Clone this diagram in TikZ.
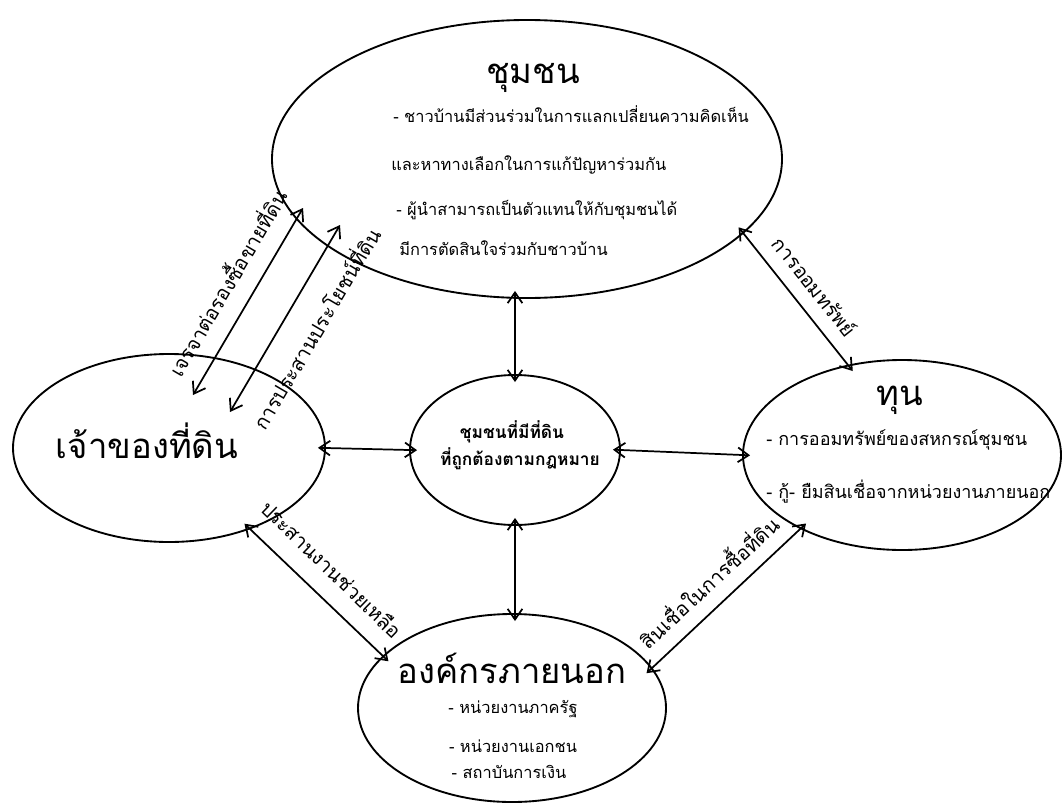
\documentclass[tikz,border=0pt]{standalone}
\usepackage{fontspec}
\newfontfamily\thaifont[Script=Thai]{Loma}
\usetikzlibrary{shapes.geometric,arrows.meta}

\begin{document}
\begin{tikzpicture}[x=0.75pt,y=0.75pt,yscale=-1,xscale=1,
  blob/.style={draw, ellipse, line width=1.4pt, inner sep=0pt},
  link/.style={{Straight Barb[length=8pt,width=11pt]}-{Straight Barb[length=8pt,width=11pt]}, line width=1.3pt, shorten <=-6pt, shorten >=-6pt},
  head/.style={font=\thaifont\fontsize{26}{30}\selectfont, inner sep=0.75pt, anchor=base},
  item/.style={font=\thaifont\fontsize{12.3}{14}\selectfont, inner sep=0.75pt, anchor=base west},
  tag/.style={font=\thaifont\fontsize{15}{18}\selectfont, inner sep=0.75pt}]
\useasboundingbox (0,0) rectangle (1063,803);

%Shape: Ellipse [ชุมชน]
\node [blob, minimum width=382.5pt, minimum height=208.5pt] (comm) at (527,159) {};
%Shape: Ellipse [เจ้าของที่ดิน]
\node [blob, minimum width=234pt, minimum height=141pt] (owner) at (169,448) {};
%Shape: Ellipse [ชุมชนที่มีที่ดิน]
\node [blob, minimum width=157.5pt, minimum height=112.5pt] (legal) at (515,450) {};
%Shape: Ellipse [ทุน]
\node [blob, minimum width=238.5pt, minimum height=142.5pt] (fund) at (902,455) {};
%Shape: Ellipse [องค์กรภายนอก]
\node [blob, minimum width=231pt, minimum height=141pt] (ext) at (512,708) {};

% Text Node
\node [head] (commT) at (533,83) {ชุมชน};
\node [item] (commA) at (392,122) {- ชาวบ้านมีส่วนร่วมในการแลกเปลี่ยนความคิดเห็น};
\node [item] (commB) at (390,170) {และหาทางเลือกในการแก้ปัญหาร่วมกัน};
\node [item] (commC) at (395,215) {- ผู้นำสามารถเป็นตัวแทนให้กับชุมชนได้};
\node [item] (commD) at (398,255) {มีการตัดสินใจร่วมกับชาวบ้าน};
% Text Node
\node [head] (ownerT) at (147,458) {เจ้าของที่ดิน};
% Text Node
\node [font=\thaifont\bfseries\fontsize{13}{15}\selectfont, inner sep=0.75pt, anchor=base] (legalA) at (512,438) {ชุมชนที่มีที่ดิน};
\node [font=\thaifont\bfseries\fontsize{13}{15}\selectfont, inner sep=0.75pt, anchor=base] (legalB) at (520,465) {ที่ถูกต้องตามกฎหมาย};
% Text Node
\node [head] (fundT) at (900,405) {ทุน};
\node [item, font=\thaifont\fontsize{13.5}{16}\selectfont] (fundA) at (765,445) {- การออมทรัพย์ของสหกรณ์ชุมชน};
\node [item, font=\thaifont\fontsize{13.5}{16}\selectfont] (fundB) at (765,498) {- กู้- ยืมสินเชื่อจากหน่วยงานภายนอก};
% Text Node
\node [head] (extT) at (512,683) {องค์กรภายนอก};
\node [item, anchor=base] (extA) at (513,713) {- หน่วยงานภาครัฐ};
\node [item, anchor=base] (extB) at (513,752) {- หน่วยงานเอกชน};
\node [item, anchor=base] (extC) at (509,778) {- สถาบันการเงิน};

%Straight Lines [owner - comm]
\coordinate (buyA) at (193,395);
\coordinate (buyB) at (303,208);
\coordinate (useA) at (230,412);
\coordinate (useB) at (340,225);
\draw [link, shorten <=0pt, shorten >=0pt] (buyA) -- (buyB);
\draw [link, shorten <=0pt, shorten >=0pt] (useA) -- (useB);
%Straight Lines [comm - fund]
\draw [link] (comm.-19) -- (fund.121);
%Straight Lines [owner - ext]
\draw [link] (owner.-45) -- (ext.158);
%Straight Lines [ext - fund]
\draw [link] (ext.16) -- (fund.-144);
%Straight Lines [legal]
\draw [link] (legal.north) -- (legal.north |- comm.south);
\draw [link] (legal.south) -- (legal.south |- ext.north);
\draw [link] (owner.east) -- (legal.west);
\draw [link] (legal.east) -- (fund.west);

% Text Node [arrow labels]
\node [tag, rotate=59.5] (buyL) at (226,282) {เจรจาต่อรองซื้อขายที่ดิน};
\node [tag, rotate=59.5] (useL) at (315,328) {การประสานประโยชน์ที่ดิน};
\node [tag, rotate=-51.6] (saveL) at (815,286) {การออมทรัพย์};
\node [tag, rotate=-44] (helpL) at (332,569) {ประสานงานช่วยเหลือ};
\node [tag, rotate=43] (loanL) at (708,581) {สินเชื่อในการซื้อที่ดิน};

\end{tikzpicture}
\end{document}
